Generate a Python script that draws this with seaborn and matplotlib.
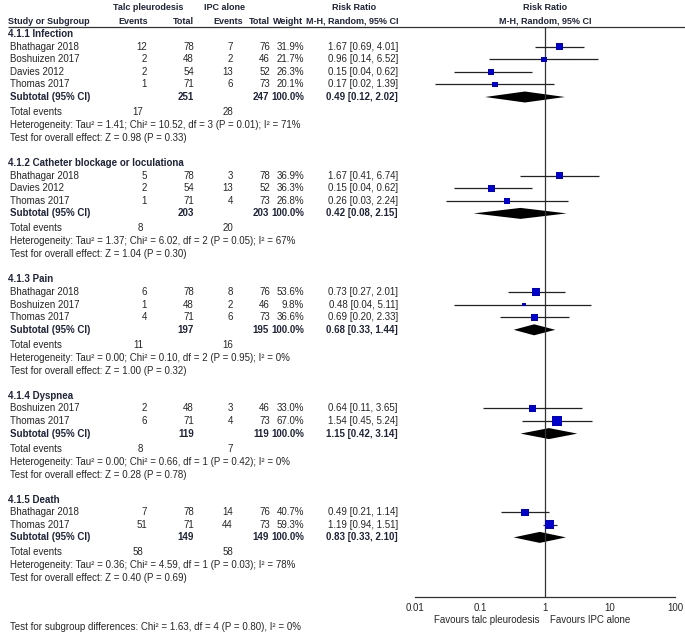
import numpy as np
import pandas as pd
import matplotlib
matplotlib.use("Agg")
import matplotlib.pyplot as plt
import seaborn as sns

# ---- data ----
groups = ["4.1.1 Infection", "4.1.2 Catheter blockage or loculationa",
          "4.1.3 Pain", "4.1.4 Dyspnea", "4.1.5 Death"]

studies = [
    ["Bhathagar 2018", "Boshuizen 2017", "Davies 2012", "Thomas 2017"],
    ["Bhathagar 2018", "Davies 2012", "Thomas 2017"],
    ["Bhathagar 2018", "Boshuizen 2017", "Thomas 2017"],
    ["Boshuizen 2017", "Thomas 2017"],
    ["Bhathagar 2018", "Thomas 2017"],
]
talc_events = [[12, 2, 2, 1], [5, 2, 1], [6, 1, 4], [2, 6], [7, 51]]
talc_total = [[78, 48, 54, 71], [78, 54, 71], [78, 48, 71], [48, 71], [78, 71]]
ipc_events = [[7, 2, 13, 6], [3, 13, 4], [8, 2, 6], [3, 4], [14, 44]]
ipc_total = [[76, 46, 52, 73], [78, 52, 73], [76, 46, 73], [46, 73], [76, 73]]
weights = [[31.9, 21.7, 26.3, 20.1], [36.9, 36.3, 26.8], [53.6, 9.8, 36.6],
           [33.0, 67.0], [40.7, 59.3]]
rr = [[1.67, 0.96, 0.15, 0.17], [1.67, 0.15, 0.26], [0.73, 0.48, 0.69],
      [0.64, 1.54], [0.49, 1.19]]
rr_lo = [[0.69, 0.14, 0.04, 0.02], [0.41, 0.04, 0.03], [0.27, 0.04, 0.20],
         [0.11, 0.45], [0.21, 0.94]]
rr_hi = [[4.01, 6.52, 0.62, 1.39], [6.74, 0.62, 2.24], [2.01, 5.11, 2.33],
         [3.65, 5.24], [1.14, 1.51]]

sub_talc_total = [251, 203, 197, 119, 149]
sub_ipc_total = [247, 203, 195, 119, 149]
sub_rr = [0.49, 0.42, 0.68, 1.15, 0.83]
sub_lo = [0.12, 0.08, 0.33, 0.42, 0.33]
sub_hi = [2.02, 2.15, 1.44, 3.14, 2.10]
tot_talc_events = [17, 8, 11, 8, 58]
tot_ipc_events = [28, 20, 16, 7, 58]

het_tau2 = ["1.41", "1.37", "0.00", "0.00", "0.36"]
het_chi2 = ["10.52", "6.02", "0.10", "0.66", "4.59"]
het_df = [3, 2, 2, 1, 1]
het_p = ["0.01", "0.05", "0.95", "0.42", "0.03"]
het_i2 = [71, 67, 0, 0, 78]
z_val = ["0.98", "1.04", "1.00", "0.28", "0.40"]
z_p = ["0.33", "0.30", "0.32", "0.78", "0.69"]

axis_ticks = [0.01, 0.1, 1, 10, 100]
axis_labels = ["0.01", "0.1", "1", "10", "100"]

# ---- style ----
sns.set_style("white")
plt.rcParams["font.family"] = ["Liberation Sans", "DejaVu Sans"]
FS = 7.0
FS_HEAD = 6.5
TXT = "#262626"
BOLD = "#1f2438"

fig = plt.figure(figsize=(6.85, 6.32), dpi=100)
ax_t = fig.add_axes([0, 0, 1, 1])
ax_t.set_xlim(0, 685)
ax_t.set_ylim(632, 0)
ax_t.axis("off")

ax_f = fig.add_axes([415 / 685, 0, 260 / 685, 1])
ax_f.set_xscale("log")
ax_f.set_xlim(0.01, 100)
ax_f.set_ylim(632, 0)
ax_f.patch.set_alpha(0)


def put(x, y, s, ha="right", bold=False, size=FS, **kw):
    ax_t.text(x, y, s, ha=ha, va="center", fontsize=size,
              color=BOLD if bold else TXT,
              fontweight="bold" if bold else "normal", **kw)


# column anchors (pixels)
X_NAME, X_TE, X_TT, X_CE, X_CT, X_W, X_CI = 8, 147, 194, 233, 270, 304, 398

# header
put(148, 8, "Talc pleurodesis", ha="center", bold=True, size=FS_HEAD)
put(225, 8, "IPC alone", ha="center", bold=True, size=FS_HEAD)
put(354, 8, "Risk Ratio", ha="center", bold=True, size=FS_HEAD)
put(545, 8, "Risk Ratio", ha="center", bold=True, size=FS_HEAD)
put(X_NAME, 21, "Study or Subgroup", ha="left", bold=True, size=FS_HEAD)
put(X_TE + 1, 21, "Events", bold=True, size=FS_HEAD)
put(X_TT, 21, "Total", bold=True, size=FS_HEAD)
put(243, 21, "Events", bold=True, size=FS_HEAD)
put(X_CT, 21, "Total", bold=True, size=FS_HEAD)
put(X_W - 1, 21, "Weight", bold=True, size=FS_HEAD)
put(X_CI + 1, 21, "M-H, Random, 95% CI", bold=True, size=FS_HEAD)
put(545, 21, "M-H, Random, 95% CI", ha="center", bold=True, size=FS_HEAD)
ax_t.hlines(27, 8, 685, color="#333333", lw=0.9)

rows = []
subs = []
y = 34
for g in range(len(groups)):
    put(X_NAME, y, groups[g], ha="left", bold=True)
    y += 12.6
    for i, name in enumerate(studies[g]):
        put(X_NAME + 2, y, name, ha="left")
        put(X_TE, y, str(talc_events[g][i]))
        put(X_TT, y, str(talc_total[g][i]))
        put(X_CE, y, str(ipc_events[g][i]))
        put(X_CT, y, str(ipc_total[g][i]))
        put(X_W, y, f"{weights[g][i]:.1f}%")
        put(X_CI, y, f"{rr[g][i]:.2f} [{rr_lo[g][i]:.2f}, {rr_hi[g][i]:.2f}]")
        rows.append(dict(y=y, rr=rr[g][i], lo=rr_lo[g][i], hi=rr_hi[g][i],
                         w=weights[g][i]))
        y += 12.6
    put(X_NAME + 2, y, "Subtotal (95% CI)", ha="left", bold=True)
    put(X_TT, y, str(sub_talc_total[g]), bold=True)
    put(X_CT - 1, y, str(sub_ipc_total[g]), bold=True)
    put(X_W, y, "100.0%", bold=True)
    put(X_CI, y, f"{sub_rr[g]:.2f} [{sub_lo[g]:.2f}, {sub_hi[g]:.2f}]", bold=True)
    subs.append(dict(y=y, rr=sub_rr[g], lo=sub_lo[g], hi=sub_hi[g]))
    y += 15
    put(X_NAME + 2, y, "Total events", ha="left")
    put(X_TE - 4, y, str(tot_talc_events[g]))
    put(X_CE, y, str(tot_ipc_events[g]))
    y += 13
    put(X_NAME + 2, y,
        f"Heterogeneity: Tau\u00b2 = {het_tau2[g]}; Chi\u00b2 = {het_chi2[g]}, "
        f"df = {het_df[g]} (P = {het_p[g]}); I\u00b2 = {het_i2[g]}%", ha="left")
    y += 13
    put(X_NAME + 2, y, f"Test for overall effect: Z = {z_val[g]} (P = {z_p[g]})",
        ha="left")
    y += 25

put(X_NAME + 2, 627,
    "Test for subgroup differences: Chi\u00b2 = 1.63, df = 4 (P = 0.80), I\u00b2 = 0%",
    ha="left")

# ---- forest panel ----
df_rows = pd.DataFrame(rows)
df_subs = pd.DataFrame(subs)

ax_f.vlines(1, 27, 597, color="#333333", lw=0.9)
ax_f.hlines(df_rows["y"], df_rows["lo"], df_rows["hi"], color="#222222", lw=0.9)
sns.scatterplot(data=df_rows, x="rr", y="y", marker="s", color="#0000c8",
                s=(0.83 * np.sqrt(df_rows["w"])) ** 2, linewidth=0,
                legend=False, ax=ax_f, zorder=3)
for _, r in df_subs.iterrows():
    ax_f.fill([r["lo"], r["rr"], r["hi"], r["rr"]],
              [r["y"], r["y"] - 5.5, r["y"], r["y"] + 5.5],
              color="black", lw=0)

for sp in ["top", "left", "right"]:
    ax_f.spines[sp].set_visible(False)
ax_f.spines["bottom"].set_position(("data", 597))
ax_f.spines["bottom"].set_color("#333333")
ax_f.spines["bottom"].set_linewidth(0.9)
ax_f.set_xticks(axis_ticks)
ax_f.set_xticklabels(axis_labels)
ax_f.minorticks_off()
ax_f.set_yticks([])
ax_f.tick_params(axis="x", direction="inout", length=6, width=0.9,
                 color="#333333", labelsize=FS, labelcolor=TXT, pad=1)
ax_f.set_xlabel("")
ax_f.set_ylabel("")
for lbl in ax_f.get_xticklabels():
    lbl.set_clip_on(False)

put(540, 620, "Favours talc pleurodesis", ha="right", clip_on=False)
put(550, 620, "Favours IPC alone", ha="left", clip_on=False)

fig.savefig("out.png", dpi=100)
